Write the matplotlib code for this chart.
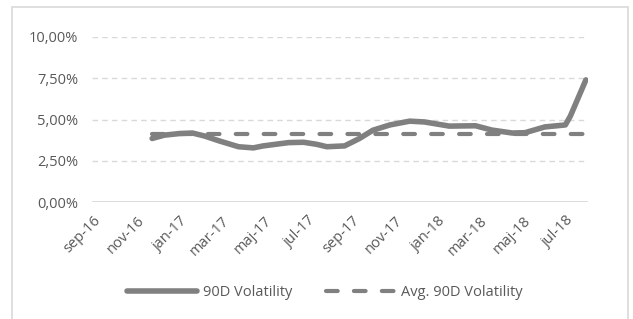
import matplotlib
matplotlib.use("Agg")
import matplotlib.pyplot as plt
from matplotlib.patches import Rectangle
import numpy as np

# 90D volatility readings (%)
dates = ["2016-11-23", "2016-12-10", "2017-01-01", "2017-01-19", "2017-02-05",
         "2017-02-26", "2017-03-25", "2017-04-15", "2017-04-29", "2017-06-04",
         "2017-06-25", "2017-07-13", "2017-07-28", "2017-08-22", "2017-09-12",
         "2017-10-01", "2017-10-25", "2017-11-22", "2017-12-13", "2018-01-17",
         "2018-02-23", "2018-03-18", "2018-04-16", "2018-05-04", "2018-06-01",
         "2018-06-30", "2018-07-07", "2018-07-19", "2018-07-29"]
vol = [3.85, 4.05, 4.15, 4.18, 4.00,
       3.70, 3.35, 3.28, 3.40, 3.60,
       3.62, 3.50, 3.35, 3.40, 3.85,
       4.35, 4.67, 4.90, 4.85, 4.60,
       4.62, 4.36, 4.18, 4.20, 4.55,
       4.67, 5.20, 6.40, 7.40]
avg_vol = 4.15

tick_dates = ["2016-09-01", "2016-11-01", "2017-01-01", "2017-03-01", "2017-05-01",
              "2017-07-01", "2017-09-01", "2017-11-01", "2018-01-01", "2018-03-01",
              "2018-05-01", "2018-07-01"]
tick_labels = ["sep-16", "nov-16", "jan-17", "mar-17", "maj-17", "jul-17",
               "sep-17", "nov-17", "jan-18", "mar-18", "maj-18", "jul-18"]
y_ticks = [0, 2.5, 5.0, 7.5, 10.0]

x = np.array(dates, dtype="datetime64[D]")
xt = np.array(tick_dates, dtype="datetime64[D]")

line_col = "#808080"
text_col = "#595959"
grid_col = "#d9d9d9"
fs = 10.5

plt.rcParams['font.family'] = ['Open Sans', 'DejaVu Sans']

fig = plt.figure(figsize=(6.33, 3.19), dpi=100)
# chart border (bottom edge falls outside the image, as in the original)
fig.patches.append(Rectangle((12 / 633, -0.05), 616 / 633, 1.05 - 7 / 319,
                             transform=fig.transFigure, fill=False,
                             edgecolor=grid_col, linewidth=1.2))
ax = fig.add_axes([92 / 633, 1 - 202 / 319, 496 / 633, 165 / 319])

ax.plot(x, vol, color=line_col, linewidth=4.0, solid_capstyle="round",
        solid_joinstyle="round", label="90D Volatility", zorder=3)
ax.plot([x[0], x[-1]], [avg_vol, avg_vol], color=line_col, linewidth=3.0,
        linestyle=(0, (2.8, 3.9)), dash_capstyle="round",
        label="Avg. 90D Volatility", zorder=2)

ax.set_xlim(np.datetime64("2016-08-30"), np.datetime64("2018-08-01"))
ax.set_ylim(0, 10)
ax.set_yticks(y_ticks)
ax.set_yticklabels([f"{v:.2f}%".replace(".", ",") for v in y_ticks],
                   color=text_col, fontsize=fs)
ax.set_xticks(xt)
ax.set_xticklabels(tick_labels, rotation=45, ha="right", rotation_mode="anchor",
                   color=text_col, fontsize=fs)
ax.tick_params(axis="y", length=0, pad=10)
ax.tick_params(axis="x", length=0, pad=8)

for v in y_ticks[1:]:
    ax.axhline(v, color=grid_col, linewidth=1, linestyle=(0, (4, 3)), zorder=1)
ax.axhline(0, color=grid_col, linewidth=1.3, zorder=1)
for s in ax.spines.values():
    s.set_visible(False)

fig.legend(loc="center", bbox_to_anchor=(325 / 633, 1 - 293 / 319), ncol=2,
           frameon=False, handlelength=4.8, columnspacing=2.3, handletextpad=0.4,
           fontsize=fs, labelcolor=text_col)

fig.savefig("out.png", dpi=100)
